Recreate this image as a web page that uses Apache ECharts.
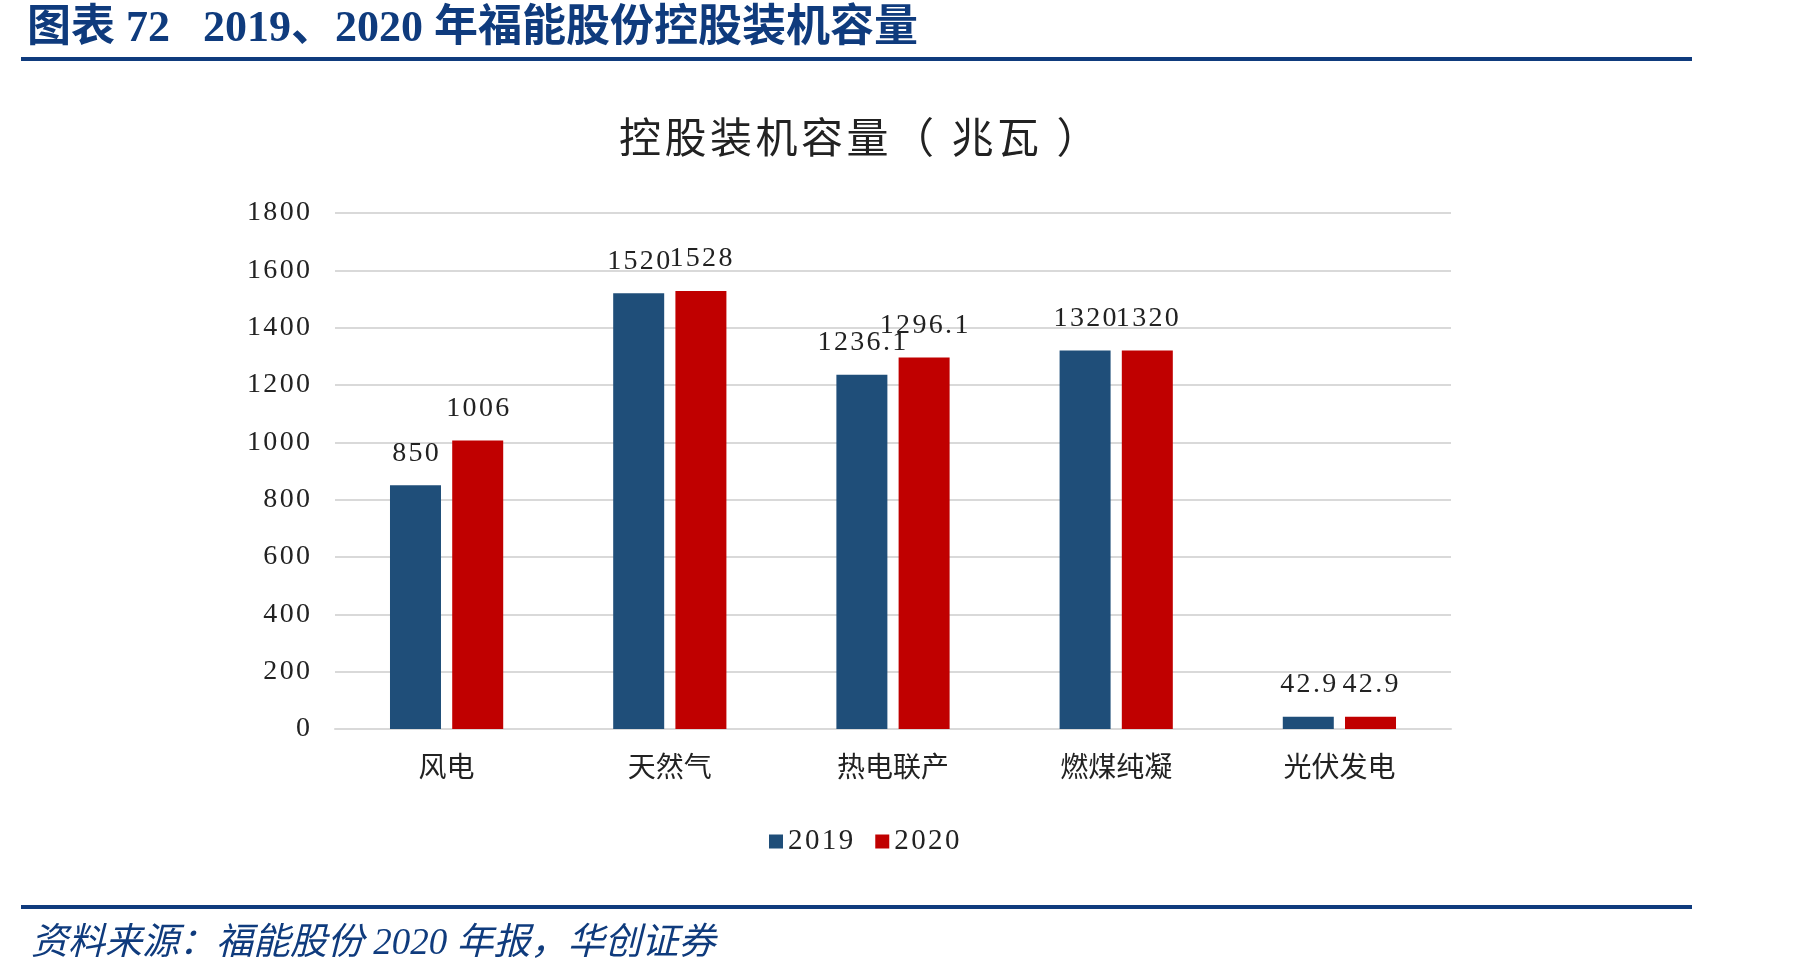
<!DOCTYPE html>
<html>
<head>
<meta charset="utf-8">
<script src="https://cdn.jsdelivr.net/npm/echarts@6/dist/echarts.min.js"></script>
<style>
html, body { margin: 0; padding: 0; background: #fff; }
#main { width: 1801px; height: 978px; }
</style>
</head>
<body>
<div id="main"></div>
<script>
// 福能股份控股装机容量（兆瓦）
var categories = ['风电', '天然气', '热电联产', '燃煤纯凝', '光伏发电'];
var data2019 = [850, 1520, 1236.1, 1320, 42.9];
var data2020 = [1006, 1528, 1296.1, 1320, 42.9];
var yTicks = [0, 200, 400, 600, 800, 1000, 1200, 1400, 1600, 1800];

var numFont = "'Liberation Serif', 'Noto Sans CJK SC', serif";
var cjkFont = "'Liberation Serif', 'Noto Sans CJK SC', sans-serif";
var navy = '#0f3b7d';

// 原图数字字距偏宽，用细空格拉开
function spaced(s) {
    return String(s).split('').join('\u200A');
}

var chart = echarts.init(document.getElementById('main'));

var option = {
    backgroundColor: '#fff',
    animation: false,
    title: [{
        text: '图表 72   2019、2020 年福能股份控股装机容量',
        left: 22,
        top: 3,
        textStyle: { fontFamily: cjkFont, fontSize: 44, fontWeight: 'bold', color: navy }
    }, {
        text: spaced('控股装机容量（ 兆瓦 ）'),
        left: 614,
        top: 116,
        textStyle: { fontFamily: cjkFont, fontSize: 42, fontWeight: 'normal', color: '#222' }
    }, {
        text: '资料来源：福能股份 2020 年报，华创证券',
        left: 26,
        top: 921,
        textStyle: { fontFamily: cjkFont, fontSize: 37, fontStyle: 'italic', fontWeight: 'normal', color: navy }
    }],
    graphic: [{
        type: 'rect',
        shape: { x: 21, y: 57, width: 1671, height: 4 },
        style: { fill: navy }
    }, {
        type: 'rect',
        shape: { x: 21, y: 905, width: 1671, height: 4 },
        style: { fill: navy }
    }],
    legend: {
        data: ['2019', '2020'],
        left: 764,
        top: 822,
        itemWidth: 14,
        itemHeight: 14,
        itemGap: 22,
        icon: 'rect',
        formatter: function (name) { return spaced(name); },
        textStyle: { fontFamily: numFont, fontSize: 29, color: '#222' }
    },
    grid: { left: 335, right: 350, top: 213, bottom: 249 },
    xAxis: {
        type: 'category',
        data: categories,
        axisLine: { lineStyle: { color: '#d9d9d9', width: 2 } },
        axisTick: { show: false },
        axisLabel: { fontFamily: cjkFont, fontSize: 28, color: '#222', margin: 27 }
    },
    yAxis: {
        type: 'value',
        min: yTicks[0],
        max: yTicks[yTicks.length - 1],
        interval: 200,
        axisLine: { show: false },
        axisTick: { show: false },
        splitLine: { lineStyle: { color: '#d9d9d9', width: 2 } },
        axisLabel: {
            fontFamily: numFont, fontSize: 28, color: '#222', margin: 25,
            formatter: function (v) { return spaced(v); }
        }
    },
    series: [{
        name: '2019',
        type: 'bar',
        data: data2019,
        barWidth: 51,
        barGap: '22%',
        itemStyle: { color: '#1f4e79' },
        label: {
            show: true, position: 'top', distance: 18, fontFamily: numFont, fontSize: 28, color: '#222',
            formatter: function (p) { return spaced(p.value); }
        }
    }, {
        name: '2020',
        type: 'bar',
        data: data2020,
        barWidth: 51,
        itemStyle: { color: '#c00000' },
        label: {
            show: true, position: 'top', distance: 18, fontFamily: numFont, fontSize: 28, color: '#222',
            formatter: function (p) { return spaced(p.value); }
        }
    }]
};

chart.setOption(option);
</script>
</body>
</html>
